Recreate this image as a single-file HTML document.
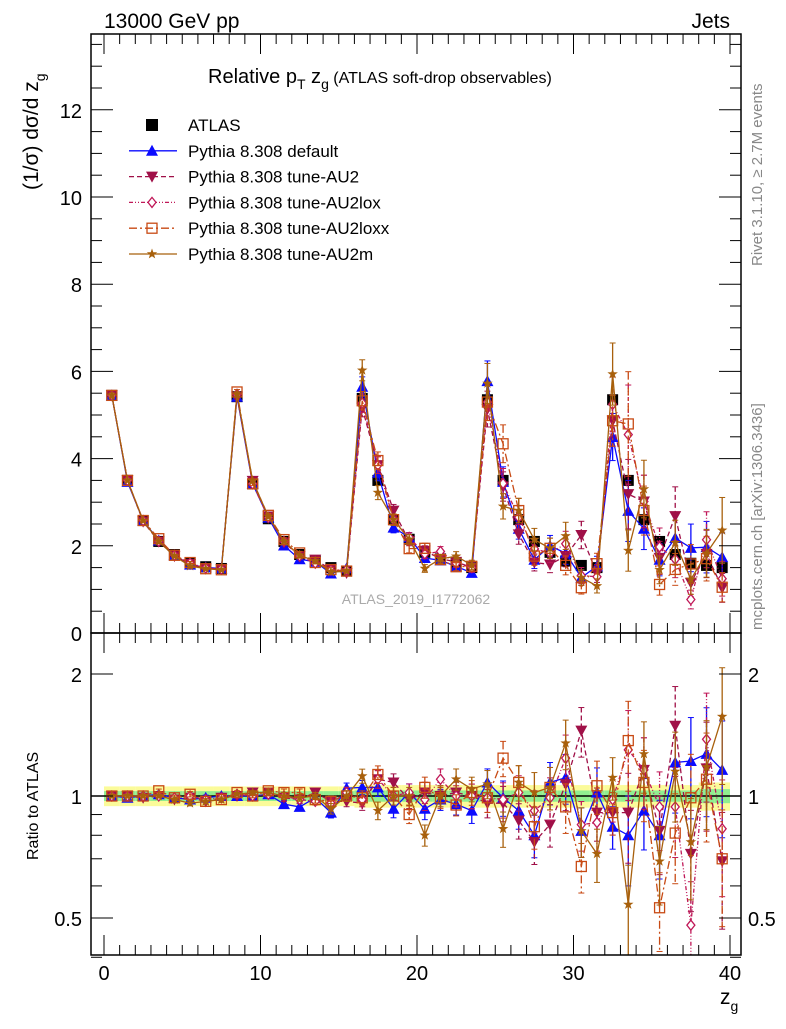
<!DOCTYPE html>
<html><head><meta charset="utf-8"><style>
body{margin:0;background:#fff}
svg text{font-family:"Liberation Sans",sans-serif}
</style></head><body>
<svg id="c" width="786" height="1024" xmlns="http://www.w3.org/2000/svg"></svg>
<script>
const bins=[];for(let i=0;i<40;i++)bins.push(i+0.5);
const atlas=[5.45,3.5,2.58,2.1,1.8,1.6,1.52,1.48,5.42,3.42,2.62,2.1,1.8,1.65,1.5,1.42,5.38,3.5,2.6,2.15,1.85,1.7,1.6,1.5,5.35,3.5,2.6,2.1,1.85,1.65,1.55,1.5,5.35,3.5,2.6,2.1,1.8,1.6,1.55,1.5];
const atlasErr=[0.035,0.035,0.035,0.035,0.035,0.035,0.035,0.035,0.035,0.035,0.035,0.035,0.035,0.035,0.035,0.035,0.04,0.04,0.04,0.04,0.04,0.04,0.04,0.04,0.04,0.04,0.04,0.04,0.04,0.04,0.04,0.04,0.04,0.04,0.04,0.04,0.04,0.04,0.05,0.05];
const rDefault=[1,0.99,1,1.01,0.99,0.98,0.99,1,1,1,1.01,0.955,0.94,0.99,0.91,1.045,1.05,1.05,0.93,1.02,0.93,0.98,0.955,0.92,1.08,0.99,0.92,0.8,1.08,1.11,0.82,1.02,0.84,0.8,0.92,0.8,1.21,1.22,1.27,1.16];
const rAU2=[1,1,0.99,1,0.98,0.99,0.97,0.99,1,1.02,1.02,0.99,0.98,1.02,0.97,0.97,0.96,1.1,1.08,0.98,1.02,1.0,1.02,1.0,0.96,0.96,0.87,0.77,0.85,1.07,1.45,0.91,0.91,0.91,1.16,0.82,1.49,0.72,1.17,0.69];
const rAU2lox=[1,1,1,1,0.99,1,0.98,0.99,1.01,1,1.01,1.0,0.98,0.97,0.96,1.02,0.98,1.1,1.0,1.02,0.98,1.1,1.0,1.0,0.99,0.98,1.02,0.92,0.99,1.24,0.85,0.86,0.98,1.3,1.16,0.94,0.94,0.48,1.38,0.83];
const rAU2loxx=[1,1,1,1.03,0.99,1.01,0.97,0.98,1.02,1,1.03,1.02,1.02,0.98,0.97,1.0,0.99,1.13,1.0,0.9,1.05,0.99,0.95,1.02,0.99,1.24,1.08,0.84,1.05,0.94,0.67,1.06,0.91,1.37,1.08,0.53,0.81,0.99,1.1,0.7];
const rAU2m=[1,1,1,1,0.98,0.96,0.97,0.98,1.01,1.02,1.02,1.0,0.99,1.0,0.93,1.0,1.12,0.92,1.0,1.0,0.8,1.0,1.1,1.04,1.07,0.83,1.08,1.02,1.05,1.35,0.82,0.72,1.11,0.54,1.27,0.69,1.15,0.77,1.18,1.57];
const mcErr=[0.01,0.01,0.01,0.01,0.015,0.015,0.015,0.015,0.01,0.01,0.015,0.02,0.02,0.02,0.03,0.03,0.04,0.05,0.05,0.05,0.06,0.06,0.06,0.07,0.08,0.1,0.1,0.12,0.12,0.14,0.14,0.15,0.12,0.25,0.2,0.22,0.25,0.28,0.3,0.32];
const mainTicks=[0,2,4,6,8,10,12];
const ratioTicks=[0.5,1,2];
const xTicks=[0,10,20,30,40];

const S=document.getElementById('c');const NS='http://www.w3.org/2000/svg';
function el(t,a,p){const e=document.createElementNS(NS,t);for(const k in a)e.setAttribute(k,a[k]);(p||S).appendChild(e);return e;}
const L=91,R=741,T=34,MB=633,RB=955;
const X=v=>104+v*15.65;
const Y=v=>633-v*43.6;
const YR=r=>796-Math.log2(r)*122;

const defs=el('defs',{});
const c1=el('clipPath',{id:'cm'},defs);el('rect',{x:L,y:T,width:R-L,height:MB-T},c1);
const c2=el('clipPath',{id:'cr'},defs);el('rect',{x:L,y:MB,width:R-L,height:RB-MB},c2);

const gBand=el('g',{'clip-path':'url(#cr)'});


bins.forEach((b,i)=>{const e=atlasErr[i];
 el('rect',{x:X(i),y:YR(1+e*1.6),width:15.65,height:YR(1-e*1.6)-YR(1+e*1.6),fill:'#fbfb9a'},gBand);
 el('rect',{x:X(i),y:YR(1+e*0.8),width:15.65,height:YR(1-e*0.8)-YR(1+e*0.8),fill:'#90ee90'},gBand);});
el('line',{x1:L,x2:R,y1:YR(1),y2:YR(1),stroke:'#000','stroke-width':1.5});

function marker(g,type,x,y,col){
 if(type==='sq')return el('rect',{x:x-5.5,y:y-5.5,width:11,height:11,fill:'#000'},g);
 if(type==='tu')return el('polygon',{points:`${x},${y-6} ${x-6},${y+5} ${x+6},${y+5}`,fill:col},g);
 if(type==='td')return el('polygon',{points:`${x},${y+6} ${x-6},${y-5} ${x+6},${y-5}`,fill:col},g);
 if(type==='di')return el('polygon',{points:`${x},${y-5} ${x-4},${y} ${x},${y+5} ${x+4},${y}`,fill:'#fff',stroke:col,'stroke-width':1.3},g);
 if(type==='os')return el('rect',{x:x-5,y:y-5,width:10,height:10,fill:'none',stroke:col,'stroke-width':1.3},g);
 if(type==='st'){let p=[];for(let k=0;k<10;k++){const a=-Math.PI/2+k*Math.PI/5,rr=k%2?2.2:5.5;p.push((x+rr*Math.cos(a)).toFixed(1)+','+(y+rr*Math.sin(a)).toFixed(1));}return el('polygon',{points:p.join(' '),fill:col},g);}
}
const series=[
 {name:'pythia-default',r:rDefault,col:'#0b0bff',dash:'',m:'tu',label:'Pythia 8.308 default'},
 {name:'pythia-au2',r:rAU2,col:'#a01048',dash:'5,3',m:'td',label:'Pythia 8.308 tune-AU2'},
 {name:'pythia-au2lox',r:rAU2lox,col:'#c01858',dash:'4,2,1,2,1,2',m:'di',label:'Pythia 8.308 tune-AU2lox'},
 {name:'pythia-au2loxx',r:rAU2loxx,col:'#c84a14',dash:'8,3,2,3',m:'os',label:'Pythia 8.308 tune-AU2loxx'},
 {name:'pythia-au2m',r:rAU2m,col:'#a8600c',dash:'',m:'st',label:'Pythia 8.308 tune-AU2m'}];

// ATLAS points first
const gA=el('g',{'clip-path':'url(#cm)'});


bins.forEach((b,i)=>{const x=X(b),y=Y(atlas[i]);
 const p=marker(gA,'sq',x,y);
 
 
});

const gMain=el('g',{'clip-path':'url(#cm)'});


const gRat=el('g',{'clip-path':'url(#cr)'});


series.forEach(s=>{
 const gm=el('g',{},gMain);
 
 
 const gr=el('g',{},gRat);
 
 
 const vals=atlas.map((a,i)=>a*s.r[i]);
 el('polyline',{points:bins.map((b,i)=>X(b)+','+Y(vals[i])).join(' '),fill:'none',stroke:s.col,'stroke-width':1.3,'stroke-dasharray':s.dash},gm);
 el('polyline',{points:bins.map((b,i)=>X(b)+','+YR(s.r[i])).join(' '),fill:'none',stroke:s.col,'stroke-width':1.3,'stroke-dasharray':s.dash},gr);
 bins.forEach((b,i)=>{const x=X(b),e=mcErr[i];
  const v=vals[i];
  el('line',{x1:x,x2:x,y1:Y(v*(1+e)),y2:Y(v*(1-e)),stroke:s.col,'stroke-width':1.3,'stroke-dasharray':s.dash},gm);
  el('line',{x1:x-3,x2:x+3,y1:Y(v*(1+e)),y2:Y(v*(1+e)),stroke:s.col},gm);
  el('line',{x1:x-3,x2:x+3,y1:Y(v*(1-e)),y2:Y(v*(1-e)),stroke:s.col},gm);
  const r=s.r[i];
  el('line',{x1:x,x2:x,y1:YR(r*(1+e)),y2:YR(Math.max(r*(1-e),0.3)),stroke:s.col,'stroke-width':1.3,'stroke-dasharray':s.dash},gr);
  el('line',{x1:x-3,x2:x+3,y1:YR(r*(1+e)),y2:YR(r*(1+e)),stroke:s.col},gr);
  el('line',{x1:x-3,x2:x+3,y1:YR(r*(1-e)),y2:YR(r*(1-e)),stroke:s.col},gr);
  const mm=marker(gm,s.m,x,Y(v),s.col);
  
  
  marker(gr,s.m,x,YR(r),s.col);
 });
});

el('rect',{x:L,y:T,width:R-L,height:MB-T,fill:'none',stroke:'#000','stroke-width':1.5});
el('rect',{x:L,y:MB,width:R-L,height:RB-MB,fill:'none',stroke:'#000','stroke-width':1.5});
function txt(s,a,name){const t=el('text',a);t.textContent=s;return t;}
for(let v=0;v<=13.5;v+=0.5){const y=Y(v),maj=Math.abs(v%2)<1e-6;
 el('line',{x1:L,x2:L+(maj?22:11),y1:y,y2:y,stroke:'#000'});el('line',{x1:R,x2:R-(maj?22:11),y1:y,y2:y,stroke:'#000'});}
mainTicks.forEach(v=>txt(String(v),{x:82,y:Y(v)+8,'font-size':20,'text-anchor':'end'},'y-tick-label'));
for(let v=0;v<=41;v++){const x=X(v),maj=v%10===0;const h=maj?20:10;
 if(x>R)break;
 el('line',{x1:x,x2:x,y1:T,y2:T+h,stroke:'#000'});el('line',{x1:x,x2:x,y1:MB,y2:MB-h,stroke:'#000'});
 el('line',{x1:x,x2:x,y1:MB,y2:MB+h,stroke:'#000'});el('line',{x1:x,x2:x,y1:RB,y2:RB-h,stroke:'#000'});}
xTicks.forEach(v=>txt(String(v),{x:X(v),y:980,'font-size':20,'text-anchor':'middle'},'x-tick-label'));
[0.4,0.5,0.6,0.7,0.8,0.9,1,2].forEach(v=>{const y=YR(v),maj=[0.5,1,2].includes(v);
 el('line',{x1:L,x2:L+(maj?22:11),y1:y,y2:y,stroke:'#000'});el('line',{x1:R,x2:R-(maj?22:11),y1:y,y2:y,stroke:'#000'});});
ratioTicks.forEach(v=>{txt(String(v),{x:82,y:YR(v)+8,'font-size':20,'text-anchor':'end'},'ratio-tick-label');
 txt(String(v),{x:748,y:YR(v)+8,'font-size':20},'ratio-tick-label-right');});
txt('13000 GeV pp',{x:104,y:28,'font-size':21},'energy-label');
txt('Jets',{x:730,y:28,'font-size':21,'text-anchor':'end'},'process-label');
const ti=txt('',{x:208,y:83,'font-size':20},'plot-title');
ti.innerHTML='Relative p<tspan dy="6" font-size="14">T</tspan><tspan dy="-6"> z</tspan><tspan dy="6" font-size="14">g</tspan><tspan dy="-6" font-size="16"> (ATLAS soft-drop observables)</tspan>';
const yl=txt('',{transform:'translate(38,190) rotate(-90)','font-size':21},'y-axis-title');
yl.innerHTML='(1/σ) dσ/d z<tspan dy="7" font-size="14">g</tspan>';
txt('Ratio to ATLAS',{transform:'translate(38,860) rotate(-90)','font-size':16},'ratio-axis-title');
const xl=txt('',{x:720,y:1004,'font-size':21},'x-axis-title');
xl.innerHTML='z<tspan dy="7" font-size="14">g</tspan>';
txt('Rivet 3.1.10, ≥ 2.7M events',{transform:'translate(762,266) rotate(-90)','font-size':15,fill:'#888'},'rivet-label');
txt('mcplots.cern.ch [arXiv:1306.3436]',{transform:'translate(762,630) rotate(-90)','font-size':15,fill:'#888'},'mcplots-label');
txt('ATLAS_2019_I1772062',{x:416,y:604,'font-size':14,fill:'#aaa','text-anchor':'middle'},'analysis-id');
const lg=el('g',{});
const ya=125;
el('rect',{x:146,y:ya-6,width:12,height:12,fill:'#000'},lg);
const ta=el('text',{x:188,y:ya+6,'font-size':17},lg);ta.textContent='ATLAS';

series.forEach((s,k)=>{const y=ya+25.8*(k+1);
 el('line',{x1:129,x2:177,y1:y,y2:y,stroke:s.col,'stroke-width':1.3,'stroke-dasharray':s.dash},lg);
 marker(lg,s.m,152,y,s.col);
 const t=el('text',{x:188,y:y+6,'font-size':17},lg);t.textContent=s.label;
 
 });
</script>
</body></html>
